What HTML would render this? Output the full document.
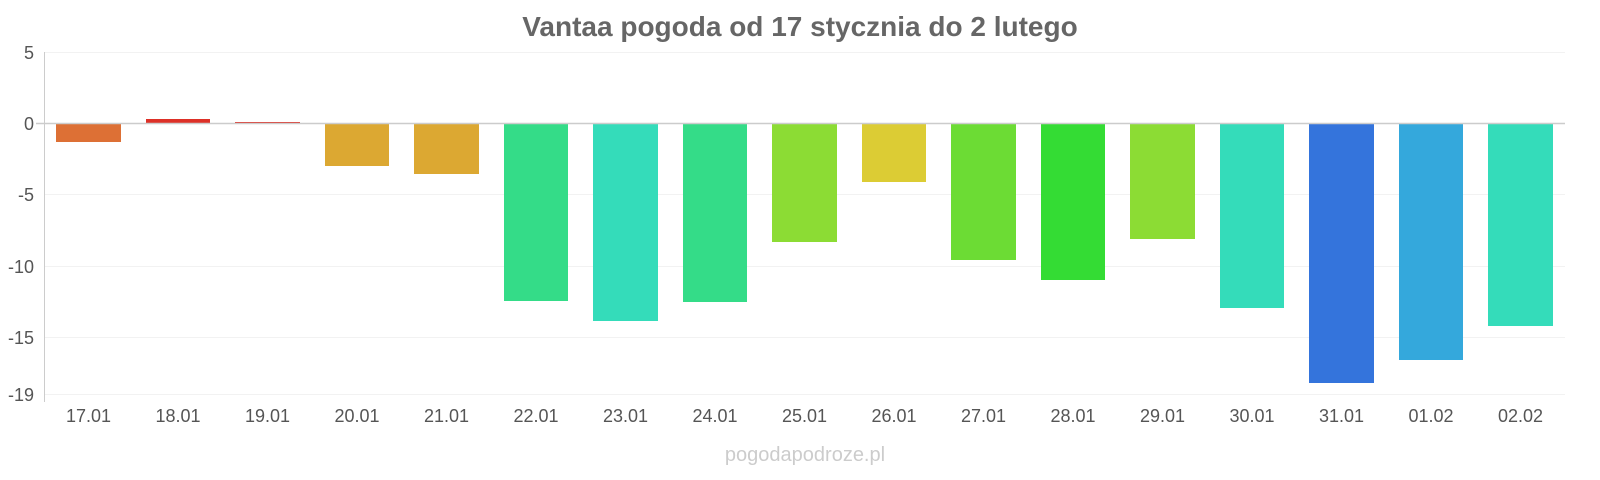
<!DOCTYPE html>
<html><head><meta charset="utf-8"><style>
body{margin:0;background:#fff;}
svg{display:block;font-family:"Liberation Sans",sans-serif;}
</style></head><body>
<svg width="1600" height="480" viewBox="0 0 1600 480">
<text x="800" y="36" text-anchor="middle" font-size="28" font-weight="bold" fill="#666">Vantaa pogoda od 17 stycznia do 2 lutego</text>
<g stroke="#f2f2f2" stroke-width="1">
<line x1="44" x2="1565" y1="52.5" y2="52.5"/>
<line x1="44" x2="1565" y1="194.5" y2="194.5"/>
<line x1="44" x2="1565" y1="266.5" y2="266.5"/>
<line x1="44" x2="1565" y1="337.5" y2="337.5"/>
<line x1="44" x2="1565" y1="394.5" y2="394.5"/>
</g>
<line x1="44.5" x2="44.5" y1="52" y2="402" stroke="#ccc"/>
<g font-size="18" fill="#555" text-anchor="end">
<text x="34" y="59">5</text>
<text x="34" y="130">0</text>
<text x="34" y="201">-5</text>
<text x="34" y="273">-10</text>
<text x="34" y="344">-15</text>
<text x="34" y="401">-19</text>
</g>
<g>
<rect x="56" y="123" width="65" height="19" fill="#dd7035"/>
<rect x="146" y="119" width="64" height="4" fill="#dd3027"/>
<rect x="235" y="122" width="65" height="1.5" fill="#dd3027"/>
<rect x="325" y="123" width="64" height="43" fill="#dca832"/>
<rect x="414" y="123" width="65" height="51" fill="#dca832"/>
<rect x="504" y="123" width="64" height="178" fill="#34dc88"/>
<rect x="593" y="123" width="65" height="198" fill="#34dcba"/>
<rect x="683" y="123" width="64" height="179" fill="#34dc88"/>
<rect x="772" y="123" width="65" height="119" fill="#8cdc34"/>
<rect x="862" y="123" width="64" height="59" fill="#dccc34"/>
<rect x="951" y="123" width="65" height="137" fill="#6cdc34"/>
<rect x="1041" y="123" width="64" height="157" fill="#34dc34"/>
<rect x="1130" y="123" width="65" height="116" fill="#8cdc34"/>
<rect x="1220" y="123" width="64" height="185" fill="#34dcba"/>
<rect x="1309" y="123" width="65" height="260" fill="#3474dc"/>
<rect x="1399" y="123" width="64" height="237" fill="#34a8dc"/>
<rect x="1488" y="123" width="65" height="203" fill="#34dcba"/>
</g>
<line x1="36" x2="1565" y1="123.5" y2="123.5" stroke="#ccc" stroke-width="1.5"/>
<g font-size="18" fill="#555" text-anchor="middle">
<text x="88.5" y="422">17.01</text><text x="178" y="422">18.01</text><text x="267.5" y="422">19.01</text>
<text x="357" y="422">20.01</text><text x="446.5" y="422">21.01</text><text x="536" y="422">22.01</text>
<text x="625.5" y="422">23.01</text><text x="715" y="422">24.01</text><text x="804.5" y="422">25.01</text>
<text x="894" y="422">26.01</text><text x="983.5" y="422">27.01</text><text x="1073" y="422">28.01</text>
<text x="1162.5" y="422">29.01</text><text x="1252" y="422">30.01</text><text x="1341.5" y="422">31.01</text>
<text x="1431" y="422">01.02</text><text x="1520.5" y="422">02.02</text>
</g>
<text x="805" y="461" text-anchor="middle" font-size="20" fill="#ccc">pogodapodroze.pl</text>
</svg>
</body></html>
